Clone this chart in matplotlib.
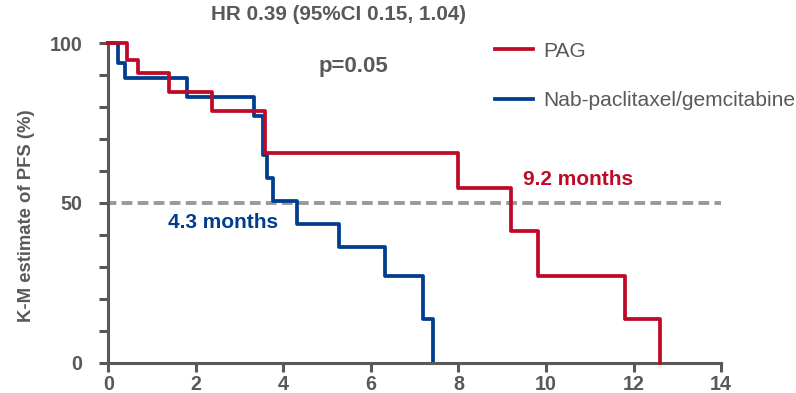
import matplotlib
matplotlib.use("Agg")
import matplotlib.pyplot as plt

# step curves (months, % progression-free)
pag_t = [0, 0.42, 0.67, 1.39, 2.36, 3.58, 7.98, 9.20, 9.81, 11.81, 12.61]
pag_s = [100, 94.8, 90.6, 84.7, 78.9, 65.6, 54.6, 41.3, 27.1, 13.6, 0]

nab_t = [0, 0.23, 0.38, 1.81, 3.34, 3.53, 3.62, 3.76, 4.30, 5.26, 6.32, 7.20, 7.41]
nab_s = [100, 93.7, 89.0, 83.1, 77.2, 65.0, 57.9, 50.6, 43.3, 36.1, 27.1, 13.6, 0]

labels = ["PAG", "Nab-paclitaxel/gemcitabine"]
medians = ["9.2 months", "4.3 months"]
hr_text = "HR 0.39 (95%CI 0.15, 1.04)"
p_text = "p=0.05"

red = "#BE0A26"
blue = "#003C8F"
grey = "#595959"

plt.rcParams["font.family"] = ["Liberation Sans", "DejaVu Sans"]

fig = plt.figure(figsize=(7.96, 3.93), dpi=100)
ax = fig.add_axes([0.136, 0.077, 0.77, 0.813])

ax.axhline(50, xmin=0.0, xmax=1.0, color="#999999", lw=2.8, ls=(0.6, (2.75, 1.37)), zorder=1)

ax.step(pag_t, pag_s, where="post", color=red, lw=2.7, label=labels[0], clip_on=False, zorder=3)
ax.step(nab_t, nab_s, where="post", color=blue, lw=2.7, label=labels[1], clip_on=False, zorder=2)

ax.set_xlim(0, 14)
ax.set_ylim(0, 100)
ax.set_xticks(range(0, 15, 2))
ax.set_yticks([0, 50, 100])
ax.set_yticks(range(0, 101, 10), minor=True)

for s in ["top", "right"]:
    ax.spines[s].set_visible(False)
for s in ["left", "bottom"]:
    ax.spines[s].set_color(grey)
    ax.spines[s].set_linewidth(2.2)

ax.tick_params(which="both", direction="out", length=6.5, width=2.2, color=grey,
               labelcolor=grey, labelsize=14.2)
ax.tick_params(axis="x", pad=2.5)
ax.tick_params(axis="y", pad=12)
for lab in ax.get_xticklabels() + ax.get_yticklabels():
    lab.set_fontweight("bold")

ax.set_ylabel("K-M estimate of PFS (%)", fontsize=13.3, fontweight="bold", color=grey)
ax.yaxis.set_label_coords(-0.12, 0.46)

ax.text(5.27, 109, hr_text, ha="center", va="center", fontsize=14.9, fontweight="bold",
        color=grey, clip_on=False)
ax.text(5.61, 92.7, p_text, ha="center", va="center", fontsize=16, fontweight="bold",
        color=grey)
ax.text(10.73, 57.4, medians[0], ha="center", va="center", fontsize=15, fontweight="bold", color=red)
ax.text(2.62, 44.0, medians[1], ha="center", va="center", fontsize=15, fontweight="bold", color=blue)

leg = ax.legend(loc="upper left", bbox_to_anchor=(0.600, 1.064), frameon=False, fontsize=15.1,
                handlelength=1.83, handletextpad=0.48, labelspacing=1.45)
for t in leg.get_texts():
    t.set_color(grey)

fig.savefig("out.png", dpi=100)
